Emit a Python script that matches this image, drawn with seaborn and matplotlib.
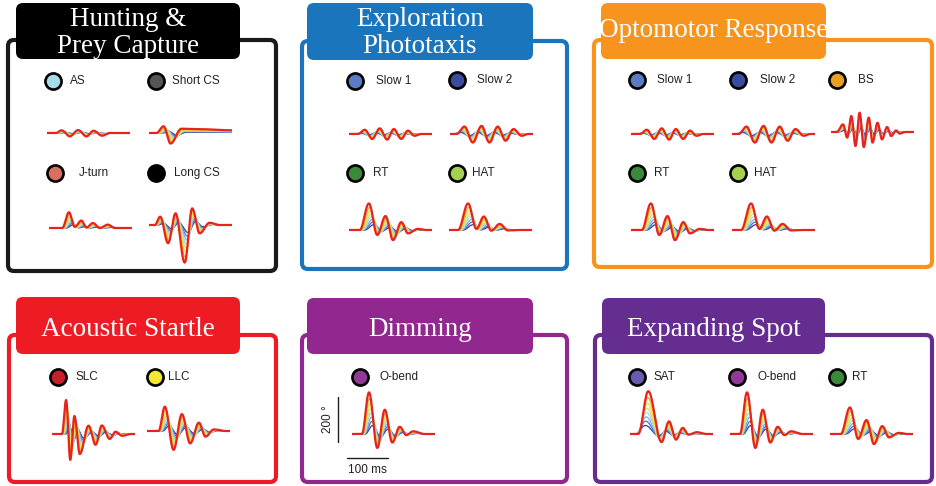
import numpy as np
import pandas as pd
import matplotlib
matplotlib.use("Agg")
import matplotlib.pyplot as plt
import seaborn as sns
from matplotlib.patches import FancyBboxPatch

# ---------------------------------------------------------------------------
# Tail-angle kinematics of each bout type: extrema of the most caudal
# segment (time in ms, angle in degrees).  Rostral segments follow with a
# reduced gain and a small time shift (lag of the most rostral one, in ms).
# ---------------------------------------------------------------------------
AS_t = [0, 22, 35, 55, 75, 95, 112, 133, 151, 200]
AS_a = [0, 0, 12, -15, 13, -15, 10, -12, 0, 0]

SHORT_CS_t = [0, 18, 35, 52, 78, 122, 200]
SHORT_CS_a = [0, 0, 30, -47, 19, 17, 12]

JTURN_t = [0, 32, 48, 62, 78, 90, 106, 122, 142, 158, 200]
JTURN_a = [0, 0, 70, 5, 33, 2, 22, 0, 15, 0, 0]

LONG_CS_t = [0, 14, 27, 46, 64, 86, 104, 122, 146, 170, 200]
LONG_CS_a = [0, 0, 37, -81, 52, -167, 74, -37, 10, 0, 0]

SLOW1_t = [0, 22, 38, 56, 74, 92, 108, 126, 142, 158, 174, 200]
SLOW1_a = [0, 0, 19, -22, 25, -25, 22, -22, 15, -8, 0, 0]

SLOW2_t = [0, 16, 35, 55, 76, 95, 115, 134, 153, 173, 189, 200]
SLOW2_a = [0, 0, 33, -38, 36, -38, 33, -30, 22, -8, 0, 0]

RT_t = [0, 26, 48, 68, 88, 106, 126, 142, 166, 186, 200]
RT_a = [0, 0, 118, -22, 62, -45, 35, -15, 5, 0, 0]

HAT_t = [0, 22, 46, 66, 84, 102, 122, 142, 170, 200]
HAT_a = [0, 0, 118, 5, 60, -3, 27, -2, 0, 0]

BS_t = [0, 14, 29, 39, 49, 59, 69, 79, 91, 100, 112, 123, 135, 145, 157, 165, 179, 200]
BS_a = [0, 0, 34, -25, 71, -62, 86, -67, 64, -47, 41, -33, 22, -18, 7, -7, 0, 0]

SLC_t = [0, 24, 34, 44, 54, 67, 88, 105, 120, 139, 153, 169, 190, 200]
SLC_a = [0, 0, 151, -115, 80, -89, 37, -48, 38, -22, 10, -8, 0, 0]

LLC_t = [0, 28, 43, 64, 84, 104, 125, 141, 161, 189, 200]
LLC_a = [0, 0, 108, -84, 75, -55, 37, -25, 7, 0, 0]

OBEND_t = [0, 24, 41, 61, 79, 97, 115, 131, 147, 175, 200]
OBEND_a = [0, 0, 185, -62, 108, -38, 32, -5, 12, 0, 0]

SAT_t = [0, 20, 44, 76, 94, 111, 127, 141, 161, 185, 200]
SAT_a = [0, 0, 190, -36, 56, -25, 27, -3, 8, 0, 0]

BOUT_LAG = {"AS": 9, "Short CS": 14, "J-turn": 10, "Long CS": 8,
            "Slow 1": -9, "Slow 2": -9, "RT": 12, "HAT": 12, "BS": 4,
            "SLC": 9, "LLC": 10, "O-bend": 8, "SAT": -7}

BOUTS = {
    "AS": (AS_t, AS_a), "Short CS": (SHORT_CS_t, SHORT_CS_a),
    "J-turn": (JTURN_t, JTURN_a), "Long CS": (LONG_CS_t, LONG_CS_a),
    "Slow 1": (SLOW1_t, SLOW1_a), "Slow 2": (SLOW2_t, SLOW2_a),
    "RT": (RT_t, RT_a), "HAT": (HAT_t, HAT_a), "BS": (BS_t, BS_a),
    "SLC": (SLC_t, SLC_a), "LLC": (LLC_t, LLC_a),
    "O-bend": (OBEND_t, OBEND_a), "SAT": (SAT_t, SAT_a),
}

# Relative amplitude of each tail segment (rostral -> caudal)
SEG_GAIN = [0.2, 0.3, 0.4, 0.5, 0.6, 0.72, 0.85, 1.0]
SEG_COLORS = ["#303f9f", "#4f6fc4", "#7aaee0", "#a7d8e8",
              "#c5e17a", "#f3e22b", "#f8a51c", "#e8221f"]

BOUT_COLORS = {"AS": "#a8dbe8", "Short CS": "#555555", "J-turn": "#d9705f",
               "Long CS": "#000000", "Slow 1": "#5b7cc4", "Slow 2": "#3a4ba0",
               "RT": "#3a8a3a", "HAT": "#a6d050", "BS": "#e8a020",
               "SLC": "#c8202a", "LLC": "#f2e830", "O-bend": "#8e3a96",
               "SAT": "#6a5bb0"}

SCALE_DEG = 200
SCALE_MS = 100

# ---------------------------------------------------------------------------
# Layout (pixels, origin top-left)
# ---------------------------------------------------------------------------
W, H = 936, 486
TRACE_W, TRACE_H = 83, 100          # 200 ms wide, +-222 deg tall
T_SPAN, A_SPAN = 200, 222.2

PANELS = [
    dict(title=["Hunting &", "Prey Capture"], base=[26, 53], color="#000000",
         edge="#1a1a1a",
         frame=(8, 40, 276, 271), tab=(16, 3, 240, 59),
         items=[("AS", (53, 81), 70, (47, 133)),
                ("Short CS", (156, 81), 172, (149, 133)),
                ("J-turn", (55, 173), 79, (49, 228)),
                ("Long CS", (156, 173), 174, (149, 225))]),
    dict(title=["Exploration", "Phototaxis"], base=[26, 53], color="#1b75bc",
         frame=(302, 41, 567, 269), tab=(307, 3, 533, 60),
         items=[("Slow 1", (355, 81), 376, (349, 134)),
                ("Slow 2", (457, 80), 477, (450, 134)),
                ("RT", (355, 173), 373, (349, 230)),
                ("HAT", (457, 173), 472, (449, 230))]),
    dict(title=["Optomotor Response"], base=[37], color="#f7941d",
         frame=(594, 40, 932, 267), tab=(601, 3, 826, 59),
         items=[("Slow 1", (637, 80), 657, (631, 134)),
                ("Slow 2", (738, 80), 760, (732, 134)),
                ("BS", (837, 80), 858, (831, 132)),
                ("RT", (637, 173), 654, (631, 230)),
                ("HAT", (738, 173), 754, (732, 230))]),
    dict(title=["Acoustic Startle"], base=[336], color="#ed1c24",
         frame=(9, 335, 276, 482), tab=(16, 297, 240, 354),
         items=[("SLC", (58, 377), 75, (52, 434)),
                ("LLC", (155, 377), 168, (147, 431))]),
    dict(title=["Dimming"], base=[336], color="#92278f",
         frame=(302, 335, 567, 482), tab=(307, 298, 533, 354),
         items=[("O-bend", (360, 377), 379, (352, 434))], scalebar=True),
    dict(title=["Expanding Spot"], base=[336], color="#662d91",
         frame=(595, 335, 932, 482), tab=(602, 298, 825, 354),
         items=[("SAT", (637, 377), 653, (630, 434)),
                ("O-bend", (737, 377), 757, (730, 434)),
                ("RT", (837, 377), 852, (830, 434))]),
]


def eased(t_key, a_key, grid):
    """Smooth (half-cosine) passage through successive extrema."""
    t_key = np.asarray(t_key, float)
    a_key = np.asarray(a_key, float)
    idx = np.clip(np.searchsorted(t_key, grid, side="right") - 1, 0, len(t_key) - 2)
    t0, t1 = t_key[idx], t_key[idx + 1]
    a0, a1 = a_key[idx], a_key[idx + 1]
    u = np.clip((grid - t0) / (t1 - t0), 0, 1)
    return a0 + (a1 - a0) * (1 - np.cos(np.pi * u)) / 2


def bout_frame(name):
    t_key, a_key = BOUTS[name]
    lag = BOUT_LAG[name]
    grid = np.arange(0, 200.5, 0.5)
    n = len(SEG_GAIN)
    rows = []
    for k, g in enumerate(SEG_GAIN):
        shift = lag * (n - 1 - k) / (n - 1)
        ang = g * eased(t_key, a_key, grid - shift)
        rows.append(pd.DataFrame({"time": grid, "angle": ang, "segment": f"s{k}"}))
    return pd.concat(rows, ignore_index=True)


sns.set_theme(style="white")
plt.rcParams["font.family"] = ["Liberation Sans", "DejaVu Sans"]

fig = plt.figure(figsize=(W / 100, H / 100), dpi=100)
canvas = fig.add_axes([0, 0, 1, 1])
canvas.set_xlim(0, W)
canvas.set_ylim(H, 0)
canvas.set_axis_off()

seg_names = [f"s{k}" for k in range(len(SEG_GAIN))]
palette = dict(zip(seg_names, SEG_COLORS))
widths = {s: 0.9 for s in seg_names}
widths[seg_names[-1]] = 1.6

for p in PANELS:
    x0, y0, x1, y1 = p["frame"]
    canvas.add_patch(FancyBboxPatch((x0, y0), x1 - x0, y1 - y0,
                                    boxstyle="round,pad=0,rounding_size=6",
                                    fc="white", ec=p.get("edge", p["color"]),
                                    lw=3.0, zorder=1))
    tx0, ty0, tx1, ty1 = p["tab"]
    canvas.add_patch(FancyBboxPatch((tx0, ty0), tx1 - tx0, ty1 - ty0,
                                    boxstyle="round,pad=0,rounding_size=7",
                                    fc=p["color"], ec="none", zorder=2))
    cx = (tx0 + tx1) / 2
    for line, yb in zip(p["title"], p["base"]):
        canvas.text(cx, yb, line, ha="center", va="baseline", color="white",
                    family="Liberation Serif", fontsize=19.5, zorder=3)

    for name, (mx, my), lx, (trx, trb) in p["items"]:
        canvas.scatter([mx], [my], s=135, c=BOUT_COLORS[name],
                       edgecolors="black", linewidths=1.9, zorder=4)
        canvas.text(lx, my, name, ha="left", va="center", fontsize=8.5,
                    color="#231f20", zorder=4)

        ax = fig.add_axes([trx / W, 1 - (trb + TRACE_H / 2) / H,
                           TRACE_W / W, TRACE_H / H])
        sns.lineplot(data=bout_frame(name), x="time", y="angle",
                     hue="segment", palette=palette, size="segment",
                     sizes=widths, estimator=None, sort=False,
                     legend=False, ax=ax)
        ax.set_xlim(0, T_SPAN)
        ax.set_ylim(-A_SPAN, A_SPAN)
        ax.set_axis_off()

        if p.get("scalebar"):
            ax.plot([-33, -33], [-36, -36 + SCALE_DEG], color="#231f20",
                    lw=1.0, clip_on=False)
            ax.plot([-13, -13 + SCALE_MS], [-107, -107], color="#231f20",
                    lw=1.0, clip_on=False)
            ax.text(-57, -36 + SCALE_DEG / 2, f"{SCALE_DEG} °", rotation=90,
                    ha="center", va="center", fontsize=8.5, color="#231f20")
            ax.text(-13 + SCALE_MS / 2, -160, f"{SCALE_MS} ms", ha="center",
                    va="center", fontsize=8.5, color="#231f20")

fig.savefig("out.png", dpi=100)
